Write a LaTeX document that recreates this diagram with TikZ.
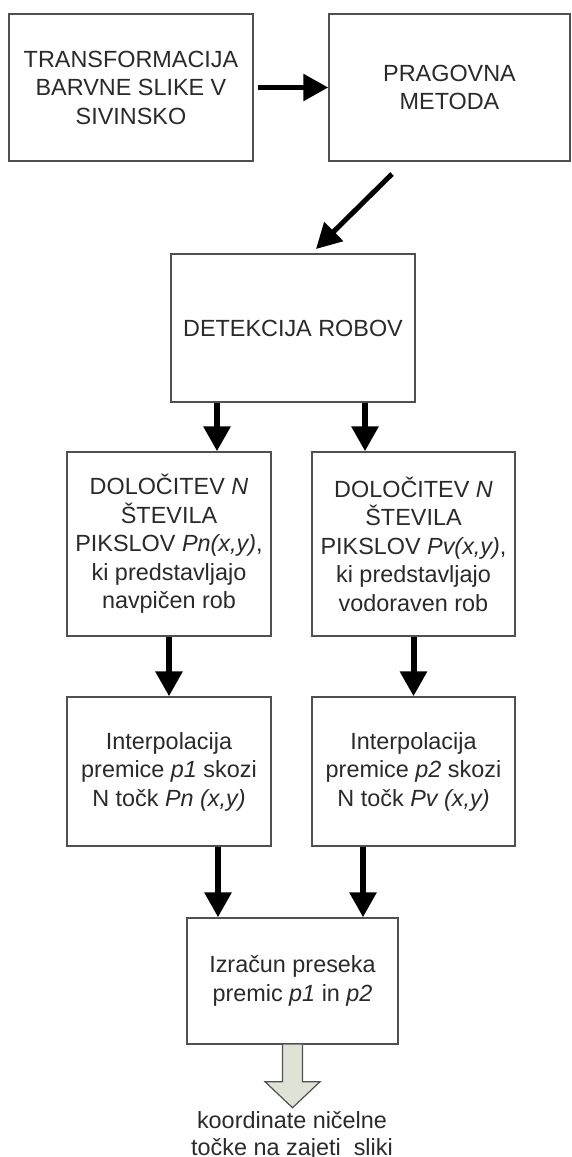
\documentclass[tikz,border=0pt]{standalone}
\usepackage{fontspec}
\setmainfont{Liberation Sans}
\usetikzlibrary{arrows.meta}
\definecolor{boxline}{HTML}{505050}
\definecolor{txt}{HTML}{2A2A2A}
\definecolor{outfill}{HTML}{DFE3D5}
\begin{document}
\begin{tikzpicture}[x=1pt,y=-1pt,
  stepbox/.style={draw=boxline, line width=1.4pt, fill=white, align=center,
    text=txt, inner sep=0pt, font=\fontsize{23.4}{28.5}\selectfont},
  flow/.style={draw=black, line width=6pt, -{Triangle[length=25pt,width=26pt]}},
  outlabel/.style={align=center, text=txt, inner sep=0pt,
    font=\fontsize{23.4}{26.5}\selectfont},
]
\useasboundingbox (0,0) rectangle (571,1157);

% processing steps
\node[stepbox, minimum width=244pt, minimum height=147pt] (b1) at (131,87.5)
  {TRANSFORMACIJA\\BARVNE SLIKE V\\SIVINSKO};
\node[stepbox, minimum width=241pt, minimum height=147pt] (b2) at (449.5,87.5)
  {PRAGOVNA\\METODA};
\node[stepbox, minimum width=244pt, minimum height=148pt] (b3) at (293,328)
  {DETEKCIJA ROBOV};
\node[stepbox, minimum width=204pt, minimum height=184pt] (b4) at (169,544)
  {DOLOČITEV \textit{N}\\ŠTEVILA\\PIKSLOV \textit{Pn(x,y)},\\ki predstavljajo\\navpičen rob};
\node[stepbox, minimum width=203pt, minimum height=184pt] (b5) at (413.5,544)
  {DOLOČITEV \textit{N}\\ŠTEVILA\\PIKSLOV \textit{Pv(x,y)},\\ki predstavljajo\\vodoraven rob};
\node[stepbox, minimum width=204pt, minimum height=149pt] (b6) at (169,771.5)
  {Interpolacija\\premice \textit{p1} skozi\\N točk \textit{Pn (x,y)}};
\node[stepbox, minimum width=203pt, minimum height=149pt] (b7) at (413.5,771.5)
  {Interpolacija\\premice \textit{p2} skozi\\N točk \textit{Pv (x,y)}};
\node[stepbox, minimum width=211pt, minimum height=126pt] (b8) at (292.5,981)
  {Izračun preseka\\premic \textit{p1} in \textit{p2}};

% result
\node[outlabel] (res) at (292,1136)
  {koordinate ničelne\\točke na zajeti~ sliki};

% connectors
\coordinate (d1) at (392,174);
\coordinate (d2) at (316,249);
\draw[flow, line width=5.5pt, shorten <=4pt] (b1.east) -- (b2.west);
\draw[flow, line width=5pt] (d1) -- (d2);
\draw[flow] ([xshift=-76pt]b3.south) -- ([xshift=-76pt]b3.south |- b4.north);
\draw[flow] ([xshift=72pt]b3.south) -- ([xshift=72pt]b3.south |- b5.north);
\draw[flow] (b4.south) -- (b6.north);
\draw[flow] (b5.south) -- (b7.north);
\draw[flow] ([xshift=49pt]b6.south) -- ([xshift=49pt]b6.south |- b8.north);
\draw[flow] ([xshift=-50.5pt]b7.south) -- ([xshift=-50.5pt]b7.south |- b8.north);

% block arrow towards the result
\draw[draw=boxline, line width=1.2pt, fill=outfill, line join=miter]
  (b8.south) ++(-10,0) -- ++(0,37) -- ++(-17.5,0) -- ++(27.5,26)
  -- ++(27.5,-26) -- ++(-17.5,0) -- ++(0,-37);
\end{tikzpicture}
\end{document}
